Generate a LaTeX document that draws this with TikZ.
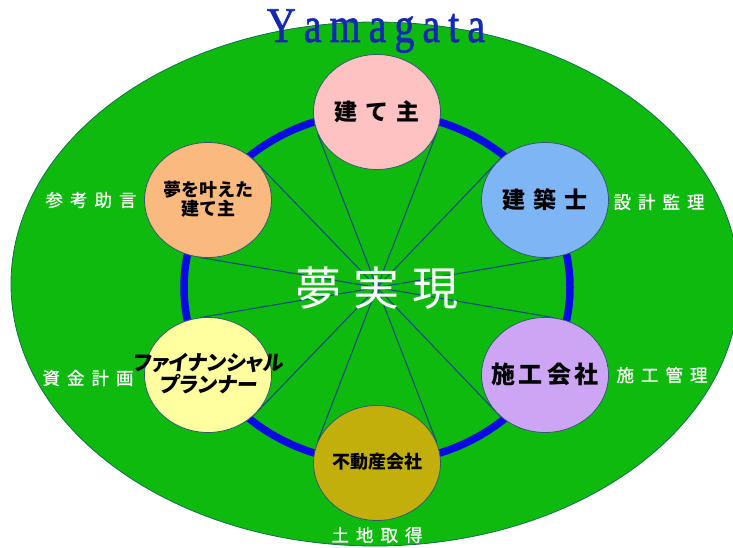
\documentclass[tikz,border=0pt]{standalone}
\usepackage{fontspec}
\setmainfont{Liberation Serif}
\newfontfamily\jp{Noto Sans CJK JP}
\newfontfamily\jpw[FakeBold=0.8]{Noto Sans CJK JP}
\newfontfamily\jpfp[RawFeature=+palt,FakeSlant=0.12]{Noto Sans CJK JP}
\newfontfamily\yfont[FakeBold=1.3]{Liberation Serif}
\usetikzlibrary{shapes.geometric}
\pgfdeclarelayer{fieldlayer}
\pgfdeclarelayer{linklayer}
\pgfsetlayers{fieldlayer,linklayer,main}
\definecolor{fieldgreen}{RGB}{14,186,14}
\definecolor{fieldedge}{RGB}{20,110,80}
\definecolor{ringblue}{RGB}{10,10,230}
\definecolor{spokeblue}{RGB}{20,75,130}
\definecolor{bubedge}{RGB}{50,90,110}
\definecolor{pinkc}{RGB}{255,194,194}
\definecolor{bluec}{RGB}{125,181,245}
\definecolor{peachc}{RGB}{250,185,125}
\definecolor{yellowc}{RGB}{255,255,160}
\definecolor{lavc}{RGB}{205,165,245}
\definecolor{olivec}{RGB}{195,175,10}
\definecolor{titleblue}{RGB}{20,40,180}
\newcommand{\cjkc}[1]{\makebox[0pt]{\begin{tabular}{@{}c@{}}#1\end{tabular}}}
\begin{document}
\begin{tikzpicture}[x=1pt,y=-1pt,
  field/.style={fill=fieldgreen, draw=fieldedge, line width=0.8pt},
  ring/.style={draw=ringblue, line width=7.5pt},
  spoke/.style={draw=spokeblue, line width=1.1pt},
  bub/.style={ellipse, draw=bubedge, line width=0.8pt, minimum width=127pt, minimum height=115pt, inner sep=0pt, text=black},
  lbl/.style={text=white, inner sep=0pt, font=\jpw\fontsize{17.5}{20}\selectfont},
  mid/.style={text=white, inner sep=0pt, font=\jp\fontsize{46}{50}\selectfont},
  ttl/.style={text=titleblue, inner sep=0pt, anchor=base, font=\yfont\fontsize{50}{54}\selectfont}
]
\useasboundingbox (0,0) rectangle (733,548);
\begin{pgfonlayer}{fieldlayer}
\clip (0,0) rectangle (733,548);
\draw[field] (375,284) ellipse [x radius=364pt, y radius=262pt];
\end{pgfonlayer}
\coordinate (c) at (377,287.5);

\node[bub, fill=pinkc] (owner) at (377,112) {\cjkc{\jp\bfseries\fontsize{23}{27}\selectfont 建\kern8pt て\kern8pt 主}};
\node[bub, fill=bluec] (arch) at (545,200) {\cjkc{\jp\bfseries\fontsize{23}{27}\selectfont 建\kern8pt 築\kern8pt 士}};
\node[bub, fill=lavc] (builder) at (545,375) {\cjkc{\jp\bfseries\fontsize{24}{28}\selectfont 施\kern4pt 工\kern4pt 会\kern4pt 社}};
\node[bub, fill=olivec] (realty) at (377,463) {\cjkc{\jp\bfseries\fontsize{18}{22}\selectfont 不動産会社}};
\node[bub, fill=yellowc] (planner) at (208,375) {\cjkc{\jpfp\bfseries\fontsize{21}{22}\selectfont ファイナンシャル\\\jpfp\bfseries\fontsize{21}{22}\selectfont プランナー}};
\node[bub, fill=peachc] (dream) at (208,200) {\cjkc{\jp\bfseries\fontsize{18}{23}\selectfont 夢を叶えた\\\jp\bfseries\fontsize{18}{23}\selectfont 建て主}};

\begin{pgfonlayer}{linklayer}
\draw[ring] (c) ellipse [x radius=193pt, y radius=175pt];
\draw[spoke] (c) -- (owner.-19.3);
\draw[spoke] (c) -- (owner.-160.7);
\draw[spoke] (c) -- (realty.19.3);
\draw[spoke] (c) -- (realty.160.7);
\draw[spoke] (c) -- (arch.136.7);
\draw[spoke] (c) -- (arch.278.3);
\draw[spoke] (c) -- (dream.43.5);
\draw[spoke] (c) -- (dream.261.9);
\draw[spoke] (c) -- (planner.98.1);
\draw[spoke] (c) -- (planner.-43.5);
\draw[spoke] (c) -- (builder.223.3);
\draw[spoke] (c) -- (builder.81.7);
\end{pgfonlayer}

\node[mid] (goal) at (377,288) {夢\kern13pt 実\kern13pt 現};

\node[lbl] (advice) at (91,200) {参\kern7pt 考\kern7pt 助\kern7pt 言};
\node[lbl] (design) at (659,202) {設\kern7pt 計\kern7pt 監\kern7pt 理};
\node[lbl] (funds) at (88,378) {資\kern7pt 金\kern7pt 計\kern7pt 画};
\node[lbl] (constr) at (662,375) {施\kern7pt 工\kern7pt 管\kern7pt 理};
\node[lbl] (land) at (377,535) {土\kern7pt 地\kern7pt 取\kern7pt 得};

\node[ttl] (title) at (376,42) {\scalebox{0.8}[1]{Y\kern10pt a\kern10pt m\kern10pt a\kern10pt g\kern10pt a\kern10pt t\kern10pt a}};
\end{tikzpicture}
\end{document}
